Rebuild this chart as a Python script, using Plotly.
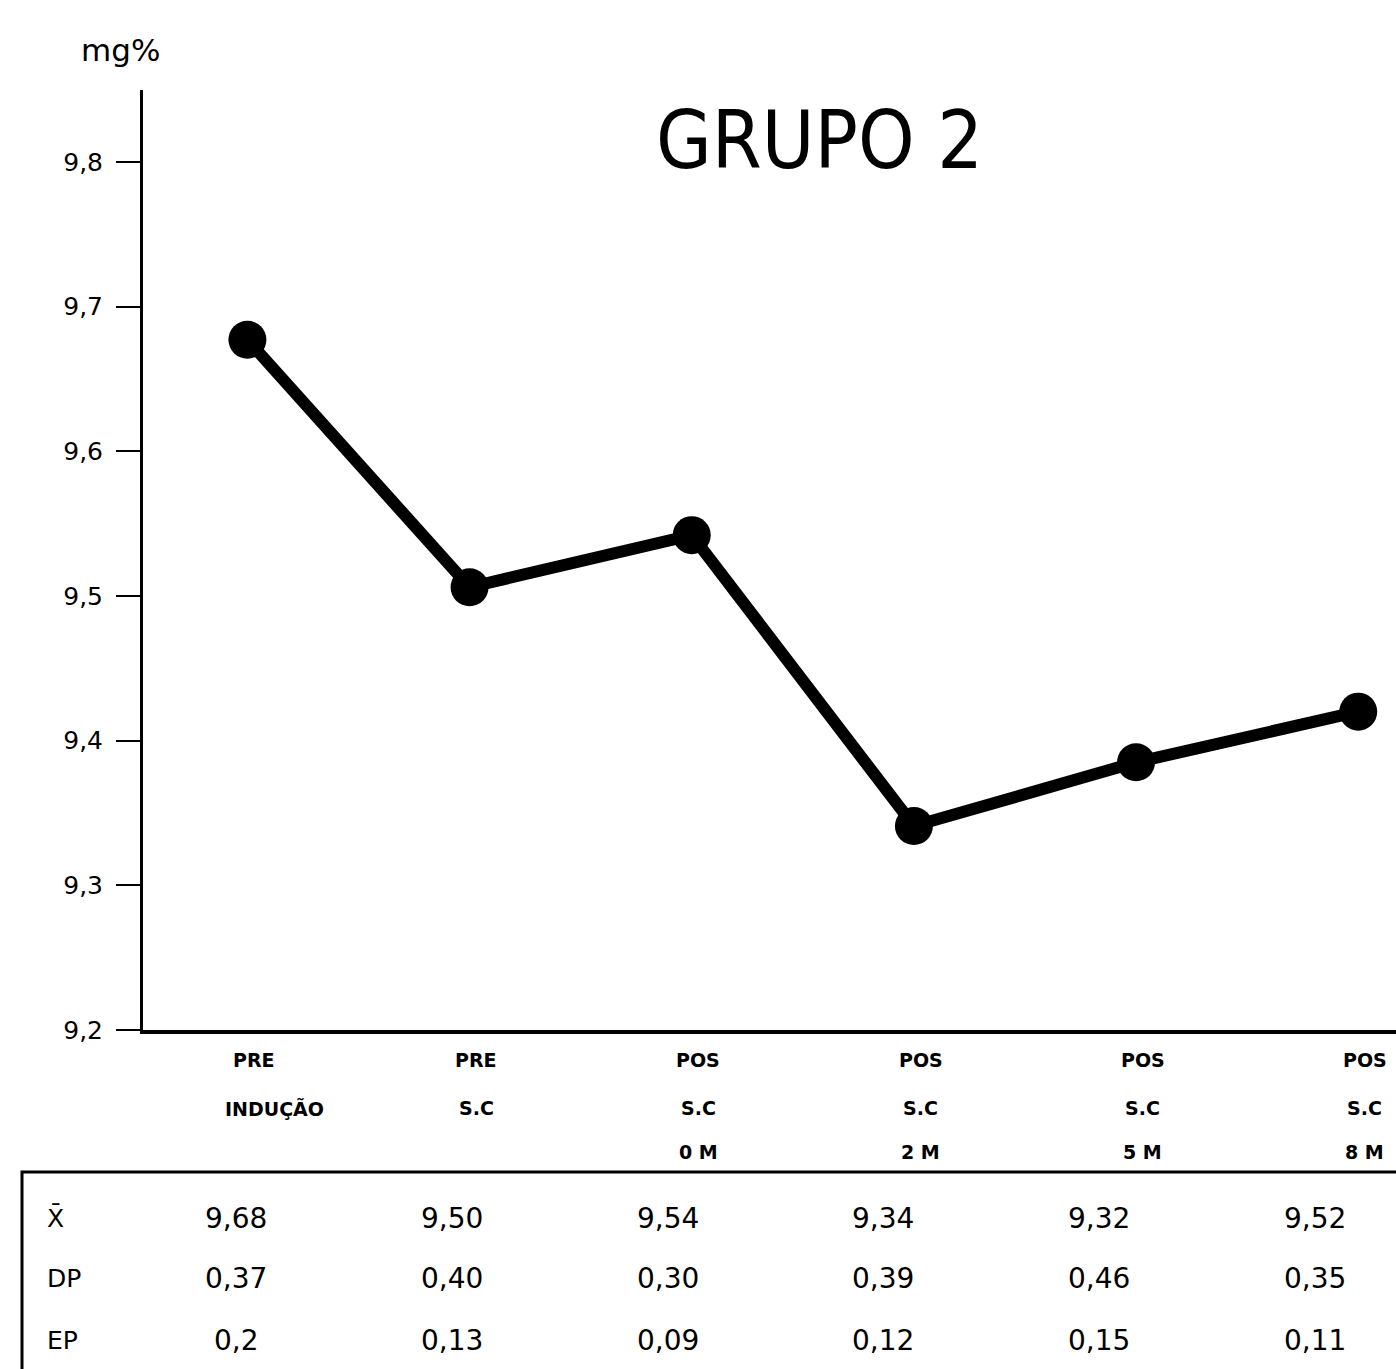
import plotly.graph_objects as go

# ---- data ----
categories = ["PRE<br>INDUÇÃO", "PRE<br>S.C", "POS<br>S.C<br>0 M", "POS<br>S.C<br>2 M", "POS<br>S.C<br>5 M", "POS<br>S.C<br>8 M"]
cat_lines = [["PRE", "INDUÇÃO"], ["PRE", "S.C"], ["POS", "S.C", "0 M"],
             ["POS", "S.C", "2 M"], ["POS", "S.C", "5 M"], ["POS", "S.C", "8 M"]]
plot_values = [9.677, 9.506, 9.542, 9.341, 9.385, 9.420]
mean_row = ["9,68", "9,50", "9,54", "9,34", "9,32", "9,52"]
dp_row = ["0,37", "0,40", "0,30", "0,39", "0,46", "0,35"]
ep_row = ["0,2", "0,13", "0,09", "0,12", "0,15", "0,11"]
row_labels = ["X\u0304", "DP", "EP"]
y_ticks = [9.2, 9.3, 9.4, 9.5, 9.6, 9.7, 9.8]
y_tick_text = ["9,2", "9,3", "9,4", "9,5", "9,6", "9,7", "9,8"]
title_text = "GRUPO 2"
unit_text = "mg%"

W, H = 1396, 1369
L, R, T, B = 143, 0, 90, 339
PH = H - T - B
PW = W - L - R


def py(p):
    return (T + PH - p) / PH


def px(p):
    return (p - L) / PW


xs = list(range(len(plot_values)))

fig = go.Figure()
fig.add_trace(go.Scatter(
    x=xs, y=plot_values, mode="lines+markers",
    line=dict(color="black", width=12),
    marker=dict(color="black", size=38),
    showlegend=False, hoverinfo="skip"))

font_main = "DejaVu Sans, Liberation Sans, sans-serif"
ann = []
# title and unit
ann.append(dict(text=title_text, x=px(819), y=py(140), xref="paper", yref="paper",
                showarrow=False, font=dict(family="Liberation Sans Narrow, DejaVu Sans Condensed, DejaVu Sans", size=80, color="black"),
                xanchor="center", yanchor="middle"))
ann.append(dict(text=unit_text, x=px(120), y=py(50), xref="paper", yref="paper",
                showarrow=False, font=dict(family=font_main, size=31, color="black"),
                xanchor="center", yanchor="middle"))
# category labels
row_py = [1060, 1108, 1152]
for i, lines in enumerate(cat_lines):
    for j, t in enumerate(lines):
        ann.append(dict(text=t, x=i + (0.12 if (i == 0 and j == 1) else 0.03), y=py(row_py[j]),
                        xref="x", yref="paper", showarrow=False,
                        font=dict(family=font_main, size=19, color="black", weight="bold"),
                        xanchor="center", yanchor="middle"))
# table
tab_py = [1218, 1278, 1340]
rows = [mean_row, dp_row, ep_row]
for r, (lab, vals) in enumerate(zip(row_labels, rows)):
    ann.append(dict(text=lab, x=px(45), y=py(tab_py[r]), xref="paper", yref="paper",
                    showarrow=False, font=dict(family=font_main, size=25, color="black"),
                    xanchor="left", yanchor="middle"))
    for i, v in enumerate(vals):
        ann.append(dict(text=v, x=-0.05 + i * 0.971, y=py(tab_py[r]), xref="x", yref="paper",
                        showarrow=False, font=dict(family=font_main, size=28, color="black"),
                        xanchor="center", yanchor="middle"))

shapes = [dict(type="rect", xref="paper", yref="paper", x0=px(22), x1=px(1410),
               y0=py(1172), y1=py(1420), line=dict(color="black", width=3), fillcolor="rgba(0,0,0,0)")]

fig.update_layout(
    width=W, height=H,
    margin=dict(l=L, r=R, t=T, b=B),
    paper_bgcolor="white", plot_bgcolor="white",
    annotations=ann, shapes=shapes,
    xaxis=dict(range=[-0.47, 5.17], showgrid=False, zeroline=False, showline=True,
               linecolor="black", linewidth=4, showticklabels=False, ticks=""),
    yaxis=dict(range=[9.2, 9.2 + 0.1 * PH / 144.7], showgrid=False, zeroline=False, showline=True,
               linecolor="black", linewidth=3, tickvals=y_ticks, ticktext=y_tick_text,
               ticks="outside", ticklen=24, tickwidth=2, tickcolor="black",
               ticklabelstandoff=8,
               tickfont=dict(family=font_main, size=25, color="black")),
)

fig.write_html("out.html")
